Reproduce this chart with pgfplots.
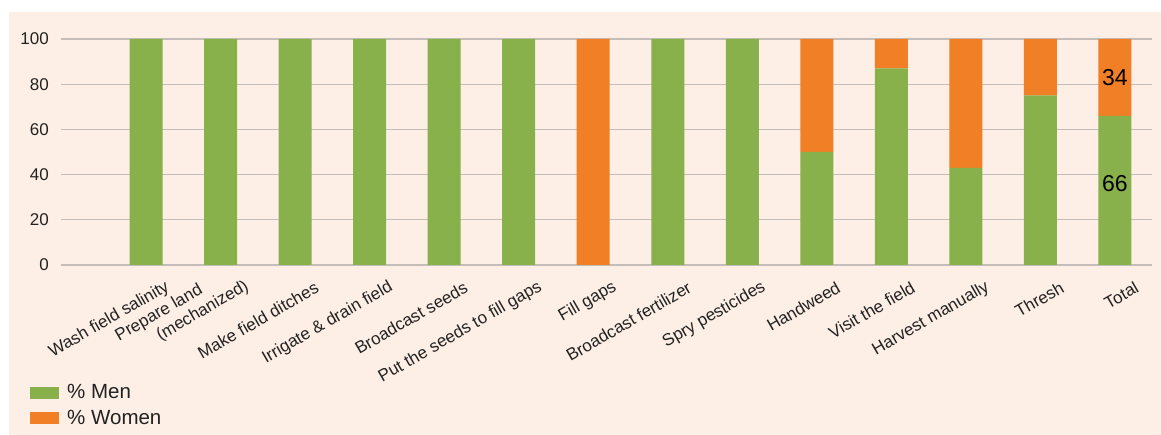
\documentclass[border=0pt]{standalone}
\usepackage{fontspec}
\setmainfont{Liberation Sans}
\usepackage{pgfplots}
\pgfplotsset{compat=1.18}
\definecolor{bgpeach}{HTML}{FDEFE5}
\definecolor{mengreen}{HTML}{88B04B}
\definecolor{womorange}{HTML}{F07F26}
\definecolor{gridgray}{HTML}{C4BEBA}
\definecolor{txt}{HTML}{222222}
\begin{document}
\begin{tikzpicture}[x=1pt,y=1pt]
\fill[bgpeach] (9,0) rectangle (1161,423);
\useasboundingbox (0,0) rectangle (1161,435);
\begin{axis}[
  at={(61pt,170pt)}, anchor=south west,
  scale only axis, width=1091pt, height=226pt,
  xmin=-0.141, xmax=14.497, ymin=0, ymax=100,
  ybar stacked, bar width=33pt,
  axis line style={draw=none},
  major tick length=0pt,
  ymajorgrids, grid style={color=gridgray, line width=1.3pt},
  ytick={0,20,40,60,80,100},
  /pgf/number format/assume math mode=true,
  yticklabel style={font=\fontsize{17}{20}\selectfont, text=txt, inner sep=0pt, anchor=east, xshift=-12pt},
  xtick={1,3,4,5,6,7,8,9,10,11,12,13,14},
  xticklabels={Wash field salinity, Make field ditches, Irrigate \& drain field, Broadcast seeds, Put the seeds to fill gaps, Fill gaps, Broadcast fertilizer, Spry pesticides, Handweed, Visit the field, Harvest manually, Thresh, Total},
  xticklabel style={font=\fontsize{17}{20}\selectfont, text=txt, inner sep=0pt, align=left, xshift=22pt, yshift=-21pt, rotate=30, anchor=east},
  extra x ticks={2},
  extra x tick labels={{Prepare land\\\hspace*{36pt}(mechanized)}},
  extra x tick style={xticklabel style={xshift=4.6pt, yshift=8pt}},
  legend style={at={(-0.0284,-0.52)}, anchor=north west, draw=none, fill=none, inner sep=0pt, font=\fontsize{20.5}{23}\selectfont, text=txt, row sep=6pt, cells={anchor=west}, /tikz/every odd column/.append style={column sep=6pt}},
  legend image code/.code={\fill[#1] (0pt,-6pt) rectangle (29pt,6pt);},
  clip=false,
]
\addplot[fill=mengreen, draw=none] coordinates {(1,100) (2,100) (3,100) (4,100) (5,100) (6,100) (7,0) (8,100) (9,100) (10,50) (11,87) (12,43) (13,75) (14,66)};
\addplot[fill=womorange, draw=none] coordinates {(1,0) (2,0) (3,0) (4,0) (5,0) (6,0) (7,100) (8,0) (9,0) (10,50) (11,13) (12,57) (13,25) (14,34)};
\legend{\% Men, \% Women}
\coordinate (lblA) at (axis cs:14,36);
\coordinate (lblB) at (axis cs:14,83);
\end{axis}
\node[font=\fontsize{23}{26}\selectfont, text=black] at (lblA) {66};
\node[font=\fontsize{23}{26}\selectfont, text=black] at (lblB) {34};
\end{tikzpicture}
\end{document}
